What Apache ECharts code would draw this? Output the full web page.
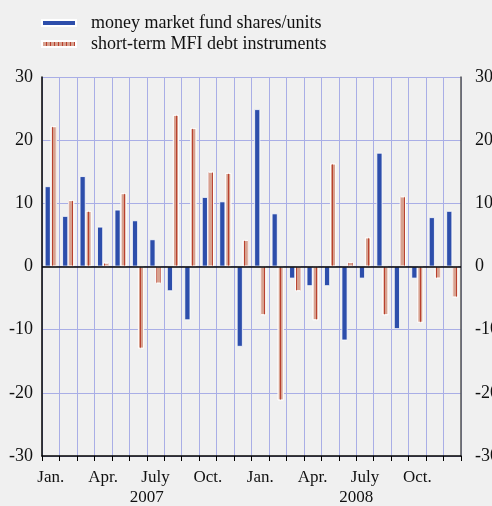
<!DOCTYPE html>
<html>
<head>
<meta charset="utf-8">
<script src="https://cdn.jsdelivr.net/npm/echarts@6/dist/echarts.min.js"></script>
<style>
  html, body { margin: 0; padding: 0; background: #f0f0f0; }
  #chart { width: 492px; height: 506px; }
</style>
</head>
<body>
<div id="chart"></div>
<script>
// monthly flows, Jan 2007 - Dec 2008
var months = ['Jan.', 'Feb.', 'Mar.', 'Apr.', 'May', 'June', 'July', 'Aug.', 'Sep.', 'Oct.', 'Nov.', 'Dec.',
              'Jan.', 'Feb.', 'Mar.', 'Apr.', 'May', 'June', 'July', 'Aug.', 'Sep.', 'Oct.', 'Nov.', 'Dec.'];
var years = ['2007', '2008'];
var mmfShares = [12.7, 8.0, 14.3, 6.3, 9.0, 7.3, 4.3, -3.9, -8.5, 11.0, 10.3, -12.7,
                 24.9, 8.4, -1.9, -3.1, -3.1, -11.7, -1.9, 18.0, -9.9, -1.9, 7.8, 8.8];
var mfiDebt = [22.2, 10.5, 8.8, 0.6, 11.6, -13.0, -2.7, 24.0, 21.9, 15.0, 14.8, 4.2,
               -7.7, -21.2, -3.9, -8.5, 16.3, 0.7, 4.6, -7.7, 11.1, -8.9, -1.9, -4.9];
var yTicks = [-30, 30, 10];

var chart = echarts.init(document.getElementById('chart'));

var serif = 'Liberation Serif';
var gridColor = '#a9aee6';

var option = {
    backgroundColor: '#f0f0f0',
    animation: false,
    textStyle: { fontFamily: serif },
    legend: {
        orient: 'vertical',
        left: 36,
        top: 9,
        itemWidth: 34,
        itemHeight: 6,
        itemGap: 3,
        icon: 'rect',
        textStyle: { fontFamily: serif, fontSize: 18, color: '#111', padding: [0, 0, 0, 10] },
        data: ['money market fund shares/units', 'short-term MFI debt instruments']
    },
    grid: { left: 42, right: 31, top: 77, bottom: 50, outerBoundsMode: 'none', containLabel: false },
    xAxis: [
        {
            type: 'category',
            data: months,
            boundaryGap: true,
            axisLine: { onZero: false, lineStyle: { color: '#000', width: 1.5 } },
            axisTick: { show: true, interval: 0, length: 5, lineStyle: { color: '#000' } },
            axisLabel: { interval: 2, color: '#111', fontSize: 17, fontFamily: serif, margin: 13 },
            splitLine: { show: true, interval: 0, lineStyle: { color: gridColor, width: 1 } }
        },
        {
            type: 'category',
            data: years,
            position: 'bottom',
            offset: 20,
            axisLine: { show: false },
            axisTick: { show: false },
            axisLabel: { color: '#111', fontSize: 17, fontFamily: serif, margin: 13 },
            splitLine: { show: false }
        }
    ],
    yAxis: [
        {
            type: 'value',
            position: 'left',
            min: yTicks[0],
            max: yTicks[1],
            interval: yTicks[2],
            axisLine: { show: true, lineStyle: { color: '#000', width: 1.5 } },
            axisTick: { show: false },
            axisLabel: { color: '#111', fontSize: 18, fontFamily: serif, margin: 9 },
            splitLine: { show: true, lineStyle: { color: gridColor, width: 1 } }
        },
        {
            type: 'value',
            position: 'right',
            min: yTicks[0],
            max: yTicks[1],
            interval: yTicks[2],
            axisLine: { show: true, lineStyle: { color: '#555', width: 1.5 } },
            axisTick: { show: false },
            axisLabel: { color: '#111', fontSize: 18, fontFamily: serif, margin: 14 },
            splitLine: { show: false }
        }
    ],
    series: [
        {
            name: 'money market fund shares/units',
            type: 'bar',
            barWidth: 6,
            barGap: '0%',
            data: mmfShares,
            itemStyle: { color: '#2d4eab', borderColor: '#fff', borderWidth: 0.8 },
            markLine: {
                silent: true,
                symbol: 'none',
                label: { show: false },
                lineStyle: { color: '#000', width: 1.5, type: 'solid' },
                data: [{ yAxis: 0 }]
            }
        },
        {
            name: 'short-term MFI debt instruments',
            type: 'bar',
            barWidth: 6,
            data: mfiDebt,
            itemStyle: {
                color: '#d7a18f',
                borderColor: '#fff',
                borderWidth: 0.8,
                decal: {
                    symbol: 'rect',
                    symbolSize: 1,
                    dashArrayX: [[1, 3]],
                    dashArrayY: [1, 0],
                    color: '#b9402e'
                }
            }
        }
    ]
};

chart.setOption(option);
</script>
</body>
</html>
